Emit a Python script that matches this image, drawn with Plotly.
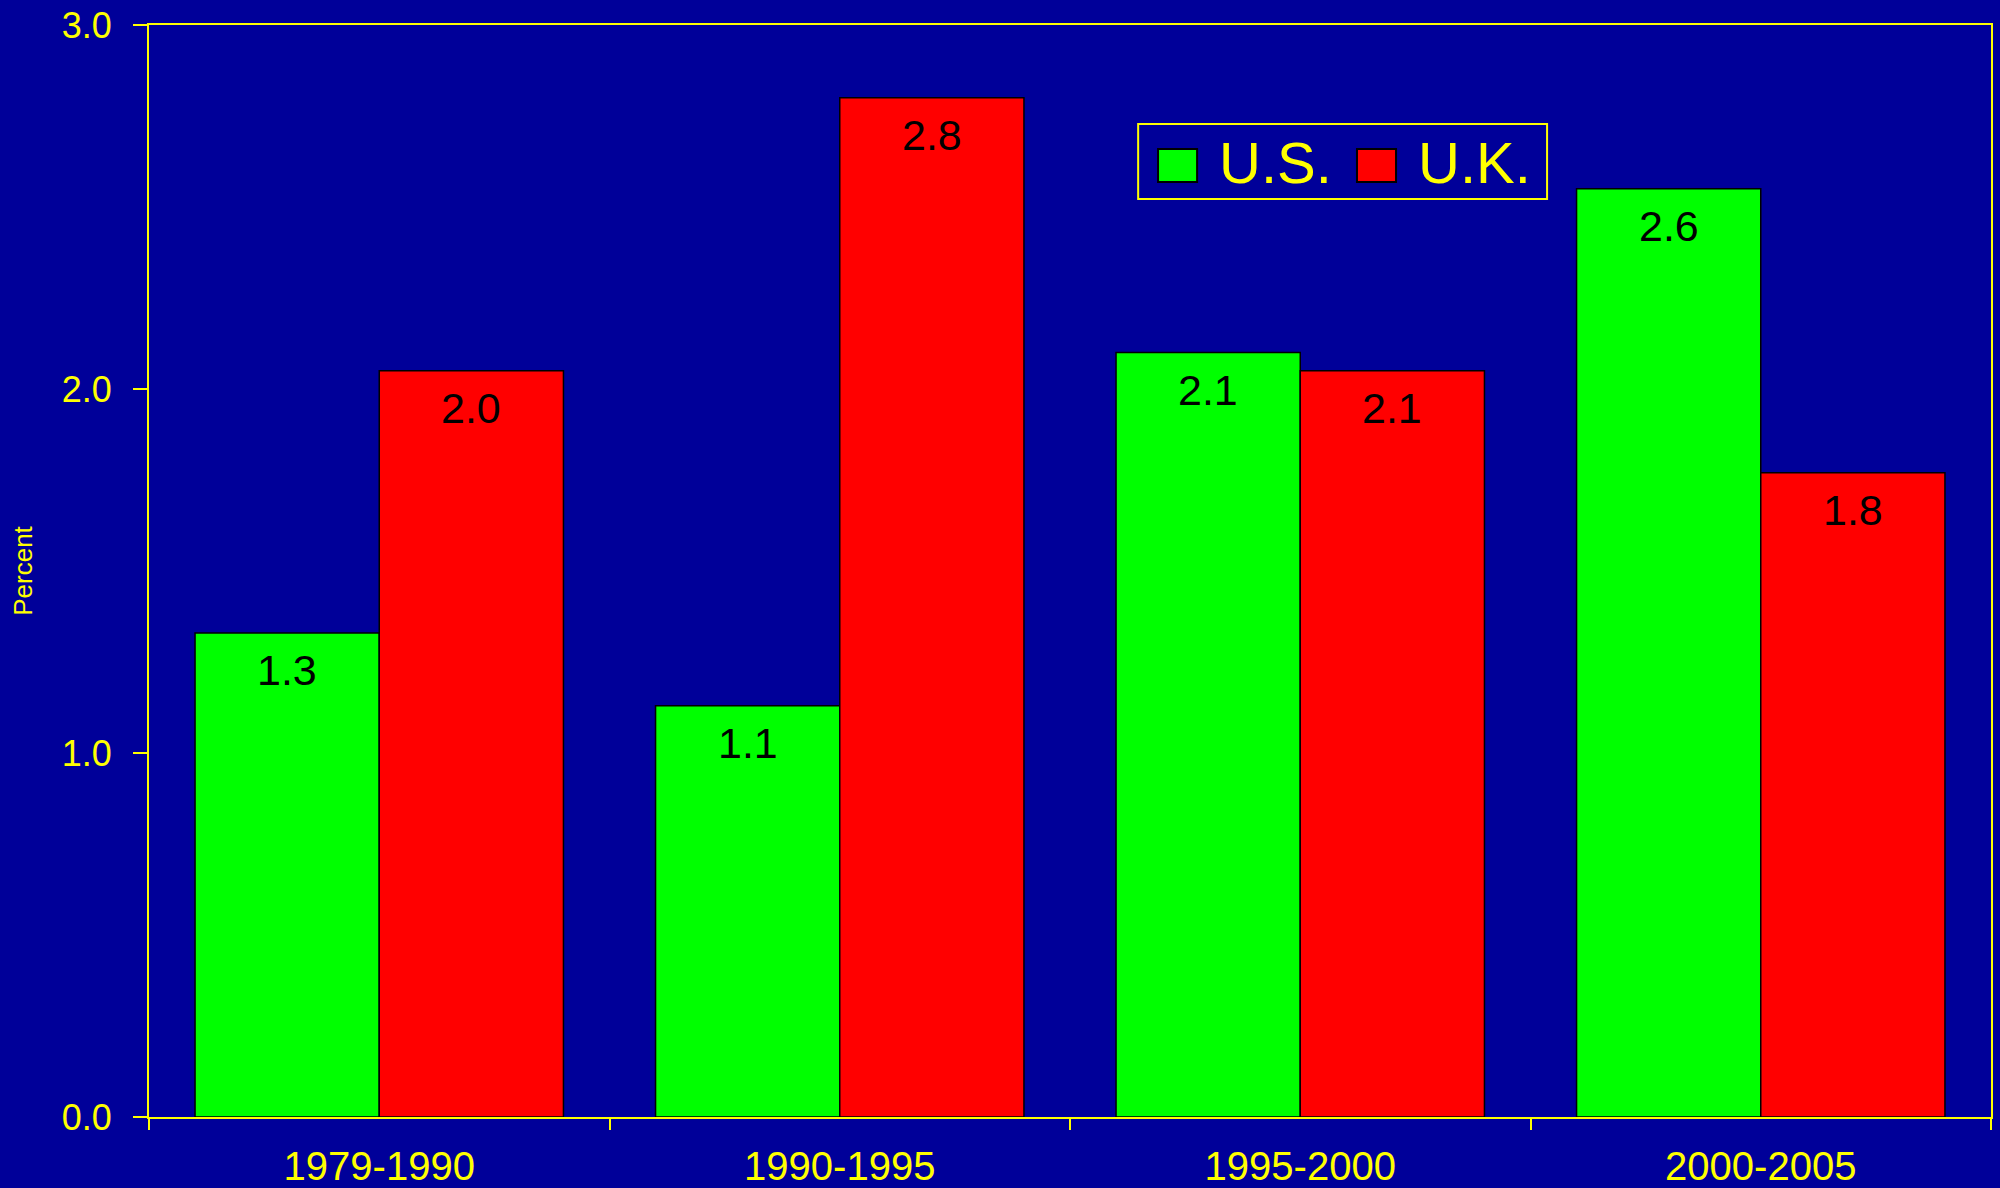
import plotly.graph_objects as go

categories = ["1979-1990", "1990-1995", "1995-2000", "2000-2005"]
us_values = [1.33, 1.13, 2.10, 2.55]
uk_values = [2.05, 2.80, 2.05, 1.77]
us_labels = ["1.3", "1.1", "2.1", "2.6"]
uk_labels = ["2.0", "2.8", "2.1", "1.8"]
series_names = ["U.S.", "U.K."]
y_ticks = [0.0, 1.0, 2.0, 3.0]

BG = "#000099"
YEL = "#FFFF00"
GREEN = "#00FF00"
RED = "#FF0000"
FONT = "Liberation Sans, Arial, sans-serif"

fig = go.Figure()
fig.add_trace(go.Bar(x=categories, y=us_values, name=series_names[0],
                     marker=dict(color=GREEN, line=dict(color="black", width=1.5)),
                     showlegend=False))
fig.add_trace(go.Bar(x=categories, y=uk_values, name=series_names[1],
                     marker=dict(color=RED, line=dict(color="black", width=1.5)),
                     showlegend=False))

annotations = []
for cat, v, t in zip(categories, us_values, us_labels):
    annotations.append(dict(x=cat, y=v, xref="x", yref="y", text=t, showarrow=False,
                            xshift=-92, yshift=-37, yanchor="middle",
                            font=dict(family=FONT, size=43, color="black")))
for cat, v, t in zip(categories, uk_values, uk_labels):
    annotations.append(dict(x=cat, y=v, xref="x", yref="y", text=t, showarrow=False,
                            xshift=92, yshift=-37, yanchor="middle",
                            font=dict(family=FONT, size=43, color="black")))

# Custom legend (paper coordinates)
lx0, lx1, ly0, ly1 = 0.537, 0.759, 0.8407, 0.9093
shapes = [
    dict(type="rect", xref="paper", yref="paper", x0=lx0, x1=lx1, y0=ly0, y1=ly1,
         line=dict(color=YEL, width=2), fillcolor=BG, layer="above"),
]
sw = [(0.5478, 0.5690, GREEN), (0.6558, 0.6770, RED)]
for x0, x1, c in sw:
    shapes.append(dict(type="rect", xref="paper", yref="paper", x0=x0, x1=x1,
                       y0=0.8562, y1=0.8864, line=dict(color="black", width=2),
                       fillcolor=c, layer="above"))
for xs, name in zip([0.5799, 0.6879], series_names):
    annotations.append(dict(x=xs, y=0.8745, xref="paper", yref="paper", text=name,
                            showarrow=False, xanchor="left", yanchor="middle",
                            font=dict(family=FONT, size=58, color=YEL)))

fig.update_layout(
    width=2000, height=1188,
    margin=dict(l=149, r=9, t=25, b=71),
    paper_bgcolor=BG, plot_bgcolor=BG,
    barmode="group", bargap=0.2, bargroupgap=0,
    font=dict(family=FONT, color=YEL),
    annotations=annotations, shapes=shapes,
    xaxis=dict(showline=True, linecolor=YEL, linewidth=2, mirror=True,
               ticks="outside", tickson="boundaries", ticklen=11, tickwidth=2,
               tickcolor=YEL, showgrid=False, zeroline=False, automargin=False,
               tickfont=dict(family=FONT, size=40, color=YEL),
               ticklabelstandoff=13),
    yaxis=dict(range=[0, 3], tickvals=y_ticks, tickformat=".1f",
               showline=True, linecolor=YEL, linewidth=2, mirror=True,
               ticks="outside", ticklen=14, tickwidth=2, tickcolor=YEL,
               showgrid=False, zeroline=False, automargin=False,
               tickfont=dict(family=FONT, size=36, color=YEL),
               ticklabelstandoff=14,
               title=dict(text="Percent", standoff=22,
                          font=dict(family=FONT, size=26, color=YEL))),
)

fig.write_html("out.html")
